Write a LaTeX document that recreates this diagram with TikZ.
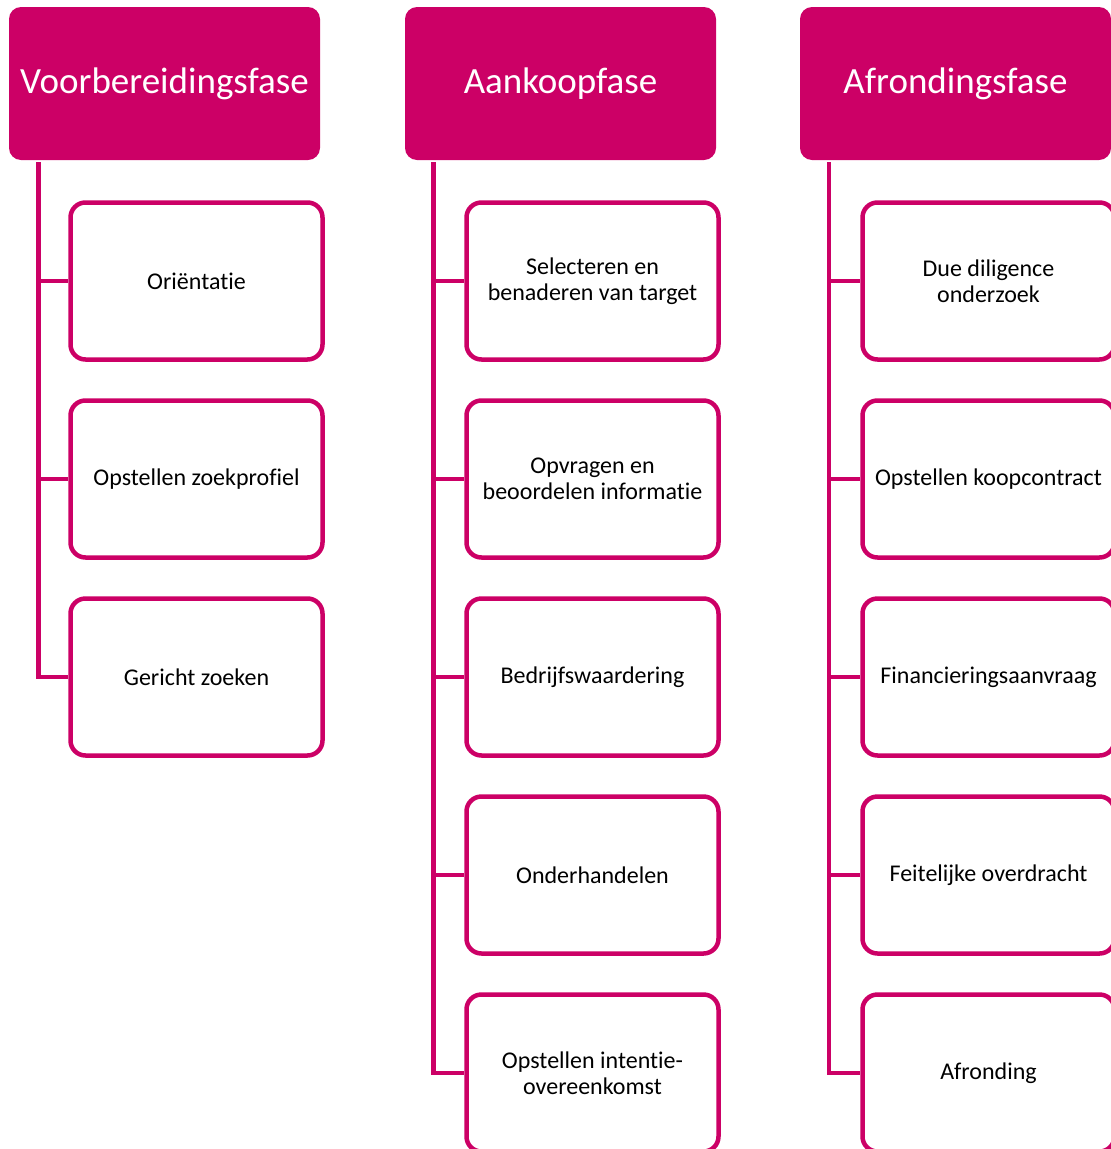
\documentclass[tikz,border=0pt]{standalone}
\usepackage{fontspec}
\setmainfont{Carlito}[Ligatures=NoCommon]
\definecolor{fasekleur}{RGB}{204,0,102}
\tikzset{
  fase/.style={fill=fasekleur, rounded corners=12pt, minimum width=311pt, minimum height=153pt,
    inner sep=0pt, text=white, font=\fontsize{37}{40}\selectfont},
  stap/.style={draw=fasekleur, fill=white, line width=4.5pt, rounded corners=15pt,
    minimum width=252pt, minimum height=157pt, inner sep=0pt, align=center,
    font=\fontsize{24}{26}\selectfont},
  tak/.style={draw=fasekleur, line width=4.5pt}
}

\begin{document}
\begin{tikzpicture}[x=1pt,y=-1pt]
\useasboundingbox (0,0) rectangle (1111,1149);
\clip (0,0) rectangle (1111,1149);
% fasen
\node[fase] (voor) at (164.5,83.5) {Voorbereidingsfase};
\node[fase] (aankoop) at (560.5,83.5) {Aankoopfase};
\node[fase] (afrond) at (955.5,83.5) {Afrondingsfase};
\coordinate (svoor) at (38.5,162);
\coordinate (saankoop) at (433.5,162);
\coordinate (safrond) at (829,162);
% voorbereiding
\node[stap] (orient) at (196.5,281) {Oriëntatie};
\node[stap] (profiel) at (196.5,479) {Opstellen zoekprofiel};
\node[stap] (zoeken) at (196.5,677) {Gericht zoeken};
% aankoop
\node[stap] (target) at (592.5,281) {Selecteren en\\benaderen van target};
\node[stap] (info) at (592.5,479) {Opvragen en\\beoordelen informatie};
\node[stap] (waarde) at (592.5,677) {Bedrijfswaardering};
\node[stap] (onderh) at (592.5,875) {Onderhandelen};
\node[stap] (intentie) at (592.5,1073) {Opstellen intentie-\\overeenkomst};
% afronding
\node[stap] (due) at (988.5,281) {Due diligence\\onderzoek};
\node[stap] (koop) at (988.5,479) {Opstellen koopcontract};
\node[stap] (financ) at (988.5,677) {Financieringsaanvraag};
\node[stap] (overdr) at (988.5,875) {Feitelijke overdracht};
\node[stap] (afr) at (988.5,1073) {Afronding};
% takken
\foreach \s in {orient,profiel,zoeken} {\draw[tak] (svoor) |- (\s.west);}
\foreach \s in {target,info,waarde,onderh,intentie} {\draw[tak] (saankoop) |- (\s.west);}
\foreach \s in {due,koop,financ,overdr,afr} {\draw[tak] (safrond) |- (\s.west);}
\end{tikzpicture}
\end{document}
